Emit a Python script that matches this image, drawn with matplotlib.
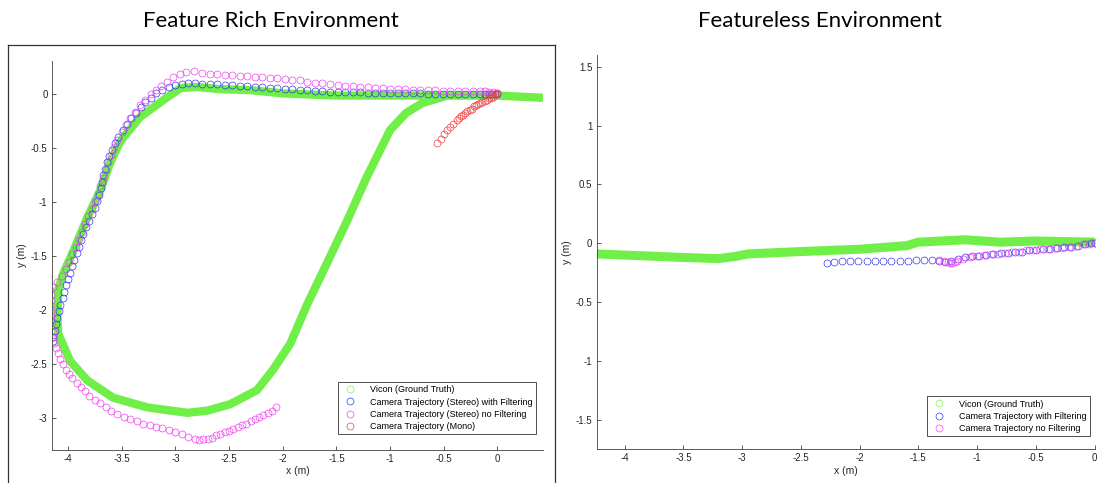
import matplotlib.pyplot as plt
from matplotlib.lines import Line2D
import numpy as np

plt.rcParams['font.family'] = ['Liberation Sans', 'DejaVu Sans']
plt.rcParams['axes.unicode_minus'] = False

# ---- feature rich run ----
rich_vicon_x = [0.42, 0.20, 0.00, -0.50, -1.00, -1.50, -2.00, -2.30, -2.60, -2.80, -2.95,
                -3.11, -3.33, -3.51, -3.61, -3.70, -3.82, -3.95, -4.04, -4.09, -4.10, -4.09,
                -3.98, -3.82, -3.58, -3.26, -2.89, -2.70, -2.49, -2.24, -2.09, -1.93, -1.77,
                -1.62, -1.40, -1.22, -1.00, -0.85, -0.70, -0.50]
rich_vicon_y = [-0.03, -0.02, -0.01, -0.01, -0.01, -0.01, 0.01, 0.04, 0.05, 0.07, 0.06,
                -0.05, -0.21, -0.43, -0.64, -0.89, -1.14, -1.45, -1.65, -1.80, -2.07, -2.22,
                -2.47, -2.65, -2.81, -2.90, -2.95, -2.93, -2.87, -2.74, -2.55, -2.31, -1.94,
                -1.63, -1.17, -0.77, -0.33, -0.17, -0.08, -0.02]

rich_filt_x = [0.00, -0.02, -0.05, -0.08, -0.12, -0.16, -0.23, -0.30, -0.37, -0.44, -0.51,
               -0.58, -0.65, -0.72, -0.79, -0.86, -0.93, -1.00, -1.07, -1.14, -1.21, -1.28,
               -1.35, -1.42, -1.49, -1.56, -1.63, -1.70, -1.77, -1.84, -1.91, -1.98, -2.05,
               -2.12, -2.19, -2.26, -2.33, -2.40, -2.47, -2.54, -2.61, -2.68, -2.75, -2.82,
               -2.88, -2.94, -3.00, -3.06, -3.12, -3.18, -3.23, -3.28, -3.32, -3.37, -3.41,
               -3.45, -3.49, -3.53, -3.56, -3.59, -3.62, -3.64, -3.66, -3.67, -3.68, -3.69,
               -3.71, -3.73, -3.75, -3.78, -3.80, -3.83, -3.86, -3.88, -3.90, -3.92, -3.94,
               -3.96, -3.98, -4.00, -4.02, -4.04, -4.05, -4.07, -4.08, -4.10, -4.11, -4.12,
               -4.14, -4.14]
rich_filt_y = [0.00, 0.00, 0.00, 0.00, 0.00, 0.00, 0.00, 0.00, 0.00, 0.00, 0.00,
               0.00, 0.00, 0.01, 0.01, 0.01, 0.01, 0.01, 0.01, 0.01, 0.01, 0.02,
               0.02, 0.02, 0.02, 0.02, 0.03, 0.03, 0.04, 0.04, 0.05, 0.05, 0.06,
               0.06, 0.07, 0.07, 0.08, 0.08, 0.09, 0.09, 0.10, 0.10, 0.10, 0.11,
               0.11, 0.10, 0.09, 0.07, 0.04, 0.01, -0.03, -0.07, -0.12, -0.17, -0.22,
               -0.27, -0.33, -0.39, -0.45, -0.51, -0.57, -0.63, -0.69, -0.75, -0.81, -0.87,
               -0.93, -0.99, -1.05, -1.11, -1.17, -1.23, -1.29, -1.35, -1.41, -1.47, -1.53,
               -1.59, -1.65, -1.71, -1.77, -1.83, -1.89, -1.95, -2.01, -2.07, -2.13, -2.19,
               -2.25, -2.28]

rich_raw_x = [0.00, -0.04, -0.08, -0.12, -0.16, -0.23, -0.30, -0.37, -0.44, -0.51, -0.58,
              -0.65, -0.72, -0.79, -0.86, -0.93, -1.00, -1.07, -1.14, -1.21, -1.28, -1.35,
              -1.42, -1.49, -1.56, -1.63, -1.70, -1.77, -1.84, -1.91, -1.98, -2.05, -2.12,
              -2.19, -2.26, -2.33, -2.40, -2.47, -2.54, -2.61, -2.68, -2.75, -2.83, -2.90,
              -2.96, -3.02, -3.08, -3.13, -3.18, -3.23, -3.28, -3.33, -3.38, -3.42, -3.46,
              -3.50, -3.54, -3.57, -3.60, -3.63, -3.65, -3.67, -3.70, -3.72, -3.75, -3.78,
              -3.81, -3.84, -3.87, -3.90, -3.93, -3.96, -3.99, -4.02, -4.06, -4.10, -4.14,
              -4.17, -4.16, -4.16, -4.17, -4.16, -4.16, -4.15, -4.15, -4.14, -4.14, -4.13,
              -4.11, -4.09, -4.07, -4.05, -4.02, -3.99, -3.96, -3.92, -3.88, -3.84, -3.80,
              -3.75, -3.70, -3.65, -3.60, -3.54, -3.48, -3.42, -3.36, -3.30, -3.24, -3.18,
              -3.12, -3.06, -3.00, -2.94, -2.88, -2.82, -2.78, -2.74, -2.70, -2.66, -2.62,
              -2.58, -2.54, -2.50, -2.46, -2.42, -2.38, -2.34, -2.30, -2.26, -2.22, -2.18,
              -2.14, -2.10, -2.06]
rich_raw_y = [0.01, 0.02, 0.02, 0.03, 0.03, 0.03, 0.03, 0.03, 0.03, 0.03, 0.04,
              0.04, 0.04, 0.04, 0.05, 0.05, 0.05, 0.06, 0.06, 0.07, 0.07, 0.08,
              0.08, 0.09, 0.10, 0.11, 0.11, 0.12, 0.13, 0.13, 0.14, 0.15, 0.15,
              0.16, 0.16, 0.17, 0.17, 0.18, 0.18, 0.19, 0.19, 0.20, 0.22, 0.21,
              0.19, 0.16, 0.12, 0.08, 0.04, 0.00, -0.05, -0.10, -0.16, -0.22, -0.28,
              -0.35, -0.42, -0.49, -0.56, -0.63, -0.70, -0.77, -0.85, -0.92, -0.99, -1.06,
              -1.13, -1.20, -1.27, -1.34, -1.41, -1.48, -1.55, -1.62, -1.68, -1.74, -1.78,
              -1.81, -1.86, -1.90, -1.95, -2.00, -2.05, -2.10, -2.15, -2.20, -2.25, -2.30,
              -2.35, -2.40, -2.45, -2.50, -2.55, -2.59, -2.63, -2.67, -2.71, -2.75, -2.79,
              -2.83, -2.86, -2.90, -2.93, -2.96, -2.99, -3.01, -3.03, -3.05, -3.06, -3.08,
              -3.09, -3.11, -3.13, -3.15, -3.17, -3.19, -3.20, -3.19, -3.19, -3.18, -3.16,
              -3.15, -3.13, -3.12, -3.10, -3.08, -3.06, -3.05, -3.03, -3.01, -2.99, -2.97,
              -2.95, -2.93, -2.90]

rich_mono_x = [0.00, -0.02, -0.04, -0.06, -0.08, -0.10, -0.12, -0.14, -0.16, -0.18, -0.20,
               -0.22, -0.24, -0.26, -0.28, -0.30, -0.32, -0.34, -0.36, -0.38, -0.41, -0.44,
               -0.47, -0.50, -0.53, -0.56]
rich_mono_y = [0.01, 0.00, -0.02, -0.03, -0.03, -0.05, -0.06, -0.07, -0.08, -0.09, -0.10,
               -0.11, -0.13, -0.14, -0.15, -0.17, -0.19, -0.20, -0.22, -0.24, -0.27, -0.30,
               -0.33, -0.37, -0.41, -0.45]

# ---- featureless run ----
flat_vicon_x = [-4.24, -4.00, -3.50, -3.20, -3.05, -2.95, -2.50, -2.00, -1.60, -1.50,
                -1.10, -0.80, -0.50, 0.00]
flat_vicon_y = [-0.09, -0.10, -0.12, -0.13, -0.11, -0.09, -0.07, -0.05, -0.02, 0.01,
                0.03, 0.01, 0.02, 0.01]

flat_filt_x = [-2.28, -2.22, -2.15, -2.08, -2.01, -1.94, -1.87, -1.80, -1.73, -1.66, -1.59,
               -1.52, -1.45, -1.38, -1.32, -1.27, -1.22, -1.16, -1.10, -1.04, -0.98, -0.92,
               -0.86, -0.80, -0.74, -0.68, -0.62, -0.56, -0.50, -0.44, -0.38, -0.32, -0.26,
               -0.20, -0.14, -0.08, -0.03, 0.00]
flat_filt_y = [-0.17, -0.16, -0.15, -0.15, -0.15, -0.15, -0.15, -0.15, -0.15, -0.15, -0.15,
               -0.14, -0.14, -0.14, -0.15, -0.16, -0.15, -0.13, -0.12, -0.11, -0.11, -0.10,
               -0.09, -0.08, -0.08, -0.07, -0.07, -0.06, -0.06, -0.05, -0.05, -0.04, -0.03,
               -0.03, -0.02, -0.01, 0.00, 0.00]

flat_raw_x = [-1.32, -1.28, -1.25, -1.23, -1.21, -1.19, -1.17, -1.12, -1.06, -1.00, -0.94,
              -0.88, -0.82, -0.76, -0.70, -0.64, -0.58, -0.52, -0.46, -0.40, -0.34, -0.28,
              -0.22, -0.16, -0.10, -0.05, 0.00]
flat_raw_y = [-0.14, -0.15, -0.16, -0.17, -0.17, -0.16, -0.15, -0.13, -0.12, -0.11, -0.10,
              -0.09, -0.09, -0.08, -0.07, -0.07, -0.06, -0.06, -0.05, -0.05, -0.04, -0.04,
              -0.03, -0.02, -0.01, -0.01, 0.00]

rich_labels = ['Vicon (Ground Truth)', 'Camera Trajectory (Stereo) with Filtering',
               'Camera Trajectory (Stereo) no Filtering', 'Camera Trajectory (Mono)']
flat_labels = ['Vicon (Ground Truth)', 'Camera Trajectory with Filtering',
               'Camera Trajectory no Filtering']

green = '#70ef48'
blue = '#3535f5'
magenta = '#f040f0'
red = '#f04040'
axcol = '#404040'
ms = 5
mew = 0.5

fig = plt.figure(figsize=(11.01, 4.83), dpi=100)
W, H = 1101, 483


def px(x0, y0, x1, y1):
    # pixel box (top-left origin) -> figure fraction rect
    return [x0 / W, 1 - y1 / H, (x1 - x0) / W, (y1 - y0) / H]


def style(ax):
    for s in ['top', 'right']:
        ax.spines[s].set_visible(False)
    for s in ['left', 'bottom']:
        ax.spines[s].set_color(axcol)
        ax.spines[s].set_linewidth(0.6)
    ax.tick_params(direction='in', length=3, width=0.6, color=axcol,
                   labelsize=7, labelcolor='#262626', pad=3)
    ax.xaxis.set_major_formatter(plt.FuncFormatter(lambda v, p: '%g' % v))
    ax.yaxis.set_major_formatter(plt.FuncFormatter(lambda v, p: '%g' % v))
    ax.set_xlabel('x (m)', fontsize=7.5, color='#262626', labelpad=2)
    ax.set_ylabel('y (m)', fontsize=7.5, color='#262626', labelpad=3)


def handles(cols):
    return [Line2D([], [], ls='none', marker='o', ms=ms, mfc='none', mec=c, mew=mew)
            for c in cols]


legkw = dict(loc='lower right', bbox_transform=fig.transFigure, fontsize=6.5,
             frameon=True, fancybox=False, edgecolor='#333333', framealpha=1,
             labelspacing=0.35, handletextpad=1.2, borderpad=0.4)

# left panel
ax1 = fig.add_axes(px(51.8, 60.7, 543, 449.5))
ax1.plot(rich_vicon_x, rich_vicon_y, color=green, lw=6, solid_capstyle='round',
         solid_joinstyle='round')
ax1.plot(rich_filt_x, rich_filt_y, 'o', ms=ms, mfc='none', mec=blue, mew=mew)
ax1.plot(rich_raw_x, rich_raw_y, 'o', ms=ms, mfc='none', mec=magenta, mew=mew)
ax1.plot(rich_mono_x, rich_mono_y, 'o', ms=ms, mfc='none', mec=red, mew=mew)
ax1.set_xlim(-4.151, 0.424)
ax1.set_ylim(-3.29, 0.313)
ax1.set_xticks(np.arange(-4, 0.01, 0.5))
ax1.set_yticks(np.arange(-3, 0.01, 0.5))
style(ax1)
leg1 = ax1.legend(handles(['#80f060', blue, magenta, red]), rich_labels,
                  bbox_to_anchor=(541 / W, 1 - 439 / H), **legkw)
leg1.get_frame().set_linewidth(0.6)

# right panel
ax2 = fig.add_axes(px(596.5, 55, 1094.5, 449.3))
ax2.plot(flat_vicon_x, flat_vicon_y, color=green, lw=6.5, solid_capstyle='round',
         solid_joinstyle='round')
ax2.plot(flat_filt_x, flat_filt_y, 'o', ms=ms, mfc='none', mec=blue, mew=mew)
ax2.plot(flat_raw_x, flat_raw_y, 'o', ms=ms, mfc='none', mec=magenta, mew=mew)
ax2.set_xlim(-4.24, 0)
ax2.set_ylim(-1.75, 1.60)
ax2.set_xticks(np.arange(-4, 0.01, 0.5))
ax2.set_yticks(np.arange(-1.5, 1.51, 0.5))
style(ax2)
leg2 = ax2.legend(handles(['#80f060', blue, magenta]), flat_labels,
                  bbox_to_anchor=(1095 / W, 1 - 441 / H), **legkw)
leg2.get_frame().set_linewidth(0.6)

# panel frames
frame = dict(color='#333333', lw=0.9, transform=fig.transFigure)
fig.add_artist(Line2D([8 / W, 8 / W], [0, 1 - 44.6 / H], **frame))
fig.add_artist(Line2D([8 / W, 555 / W], [1 - 44.6 / H, 1 - 44.6 / H], **frame))
fig.add_artist(Line2D([555 / W, 555 / W], [0, 1 - 44.6 / H], **frame))

# titles
tfont = dict(family=['Lato', 'DejaVu Sans'], fontsize=16, ha='center', va='center')
fig.text(271 / W, 1 - 21 / H, 'Feature Rich Environment', **tfont)
fig.text(820 / W, 1 - 21 / H, 'Featureless Environment', **tfont)

fig.savefig('out.png', dpi=100)
